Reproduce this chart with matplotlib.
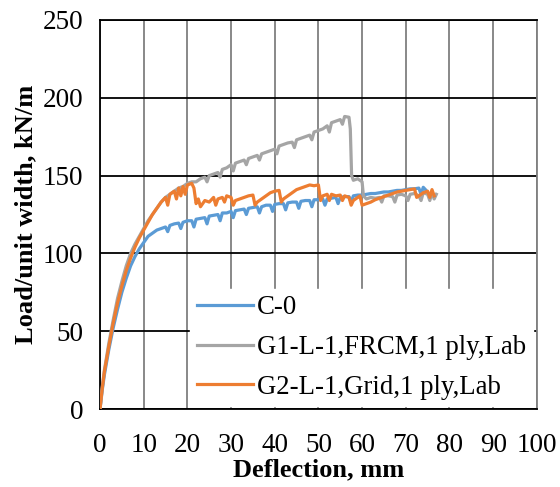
"""Load vs deflection curves"""
import matplotlib
matplotlib.use('Agg')
import matplotlib.pyplot as plt

# C-0 (control)
c0_defl = [0, 0.5, 1, 2, 3, 4, 5, 6, 7, 8, 9, 10, 11, 12, 13, 14, 15, 15.5, 16, 17, 18,
           18.5, 19, 20, 21, 21.5, 22, 23, 24, 24.5, 25, 26, 27, 27.5, 28, 29, 30, 30.5,
           31, 32, 33, 33.5, 34, 35, 36, 36.5, 37, 38, 39, 39.5, 40, 41, 42, 42.5, 43, 44,
           45, 45.5, 46, 47, 48, 48.5, 49, 50, 51, 51.5, 52, 53, 54, 54.5, 55, 56, 57, 57.5,
           58, 59, 60, 61, 62, 63, 64, 65, 66, 67, 68, 69, 70, 71, 72, 73, 73.5, 74, 74.5]
c0_load = [0, 12, 22, 38, 52, 64, 75, 84, 92, 98, 103, 107, 111, 113, 115, 116, 117, 114,
           118, 119, 119.5, 116, 120, 121, 121, 117, 122, 122.5, 123, 119, 124, 124.5, 125,
           121, 126, 126, 127, 123, 127.5, 128, 128.5, 125, 129, 129.5, 130, 126, 130, 131,
           131, 127, 131.5, 132, 132, 128, 132.5, 133, 133, 129, 133.5, 134, 134, 130, 134.5,
           134.5, 135, 131, 135, 135.5, 136, 132, 136, 136.5, 136.5, 133, 137, 137.5, 137.5,
           138, 138.5, 138.5, 139, 139.5, 139.5, 140, 140.5, 140.5, 141, 141.5, 141.5, 142,
           138, 142.5, 141]

# G1-L-1, FRCM
g1_defl = [0, 0.5, 1, 2, 3, 4, 5, 6, 7, 8, 9, 10, 11, 12, 13, 14, 15, 16, 17, 18, 19, 20,
           21, 22, 23, 24, 24.5, 25, 26, 27, 27.5, 28, 29, 30, 30.5, 31, 32, 33, 33.5, 34,
           35, 36, 36.5, 37, 38, 39, 40, 40.5, 41, 42, 43, 44, 44.5, 45, 46, 47, 48, 48.5,
           49, 50, 51, 52, 52.5, 53, 54, 55, 55.5, 56, 57, 57.3, 57.6, 58, 59, 59.5, 60,
           60.3, 61, 62, 63, 64, 64.5, 65, 66, 67, 67.5, 68, 69, 70, 70.5, 71, 72, 73, 73.5,
           74, 75, 75.5, 76, 76.5, 77]
g1_load = [0, 14, 25, 42, 57, 71, 82, 92, 100, 106, 111, 116, 121, 125, 129, 133, 136, 138,
           140, 142, 143, 145, 146, 146, 148, 149, 146, 150, 151, 152, 149, 154, 155, 157,
           153, 158, 159, 160, 157, 161, 162, 163, 160, 164, 165, 166, 167, 164, 169, 170,
           171, 171.5, 168, 173, 174, 175, 176, 173, 178, 179, 180, 182, 178, 184, 185, 186,
           183, 188, 187.5, 180, 150, 147, 148, 147, 146, 137, 135, 136, 135.5, 136, 133,
           137, 137, 136.5, 133, 137.5, 138, 137, 134, 138, 138.5, 137, 134, 139, 138, 134,
           139, 135, 138]

# G2-L-1, Grid
g2_defl = [0, 0.5, 1, 2, 3, 4, 5, 6, 7, 8, 9, 10, 11, 12, 13, 14, 15, 15.5, 16, 17, 17.5,
           18, 18.5, 19, 19.5, 20, 21, 21.5, 22, 22.5, 23, 24, 25, 26, 26.5, 27, 28, 28.5,
           29, 30, 30.5, 31, 32, 33, 34, 35, 35.5, 36, 37, 38, 39, 40, 41, 41.5, 42, 43, 44,
           45, 46, 47, 48, 49, 50, 50.5, 51, 52, 52.5, 53, 54, 55, 55.5, 56, 57, 57.5, 58,
           59, 59.5, 60, 61, 62, 63, 64, 65, 66, 67, 68, 69, 70, 71, 72, 72.5, 73, 74, 75,
           75.5, 76, 76.5]
g2_load = [0, 13, 24, 40, 55, 68, 79, 89, 97, 104, 110, 115, 120, 125, 129, 133, 136, 131,
           138, 140, 135, 142, 137, 143, 138, 144, 145, 142, 132, 135, 130, 134, 133, 136,
           131, 135, 136, 133, 137, 136, 131, 134, 135, 136, 137, 137.5, 131, 133, 135, 137,
           139, 140, 140.5, 133, 135, 137, 139, 141, 142, 143, 144, 143.5, 144, 134, 137,
           138, 134, 138, 137, 137.5, 134, 137, 136, 131, 134, 136, 137, 131, 132, 133,
           134.5, 135.5, 136.5, 137.5, 138.5, 139.5, 140, 140.5, 141, 141.5, 136, 137, 139,
           140, 136, 141, 137]

x_ticks = list(range(0, 101, 10))
y_ticks = list(range(0, 251, 50))


def main():
    """Draw and save"""
    plt.rcParams['font.family'] = ['Liberation Serif', 'DejaVu Serif']
    fig = plt.figure(figsize=(5.6, 4.87), dpi=100)
    ax = fig.add_axes([0.1786, 0.160, 0.780, 0.799])

    ax.plot(c0_defl, c0_load, color='#5B9BD5', lw=2.3, label='C-0', zorder=3)
    ax.plot(g1_defl, g1_load, color='#A5A5A5', lw=2.3,
            label='G1-L-1,FRCM,1 ply,Lab', zorder=3)
    ax.plot(g2_defl, g2_load, color='#ED7D31', lw=2.3,
            label='G2-L-1,Grid,1 ply,Lab', zorder=3)

    ax.set_xlim(0, 100)
    ax.set_ylim(0, 250)
    ax.set_xticks(x_ticks)
    ax.set_yticks(y_ticks)
    ax.tick_params(length=0, labelsize=19.5)
    ax.tick_params(axis='y', pad=12)
    ax.tick_params(axis='x', pad=17)
    ax.xaxis.grid(True, color='#7f7f7f', lw=1.3)
    ax.yaxis.grid(True, color='black', lw=1.3)
    ax.set_axisbelow(True)
    for side in ['left', 'bottom', 'top']:
        ax.spines[side].set_color('black')
        ax.spines[side].set_linewidth(1.3)
    ax.spines['right'].set_color('#7f7f7f')
    ax.spines['right'].set_linewidth(1.3)

    ax.set_xlabel('Deflection, mm', fontsize=19, fontweight='bold', labelpad=0.5)
    ax.set_ylabel('Load/unit width, kN/m', fontsize=19, fontweight='bold', labelpad=4)

    leg = ax.legend(loc='lower right', bbox_to_anchor=(0.997, 0.0), fontsize=19.3,
                    frameon=True, fancybox=False, framealpha=1, edgecolor='white',
                    handlelength=2.1, handletextpad=0.15, borderpad=0.25,
                    labelspacing=0.55, borderaxespad=0.1)
    leg.set_zorder(5)

    fig.savefig('out.png', dpi=100)


if __name__ == "__main__":
    main()
